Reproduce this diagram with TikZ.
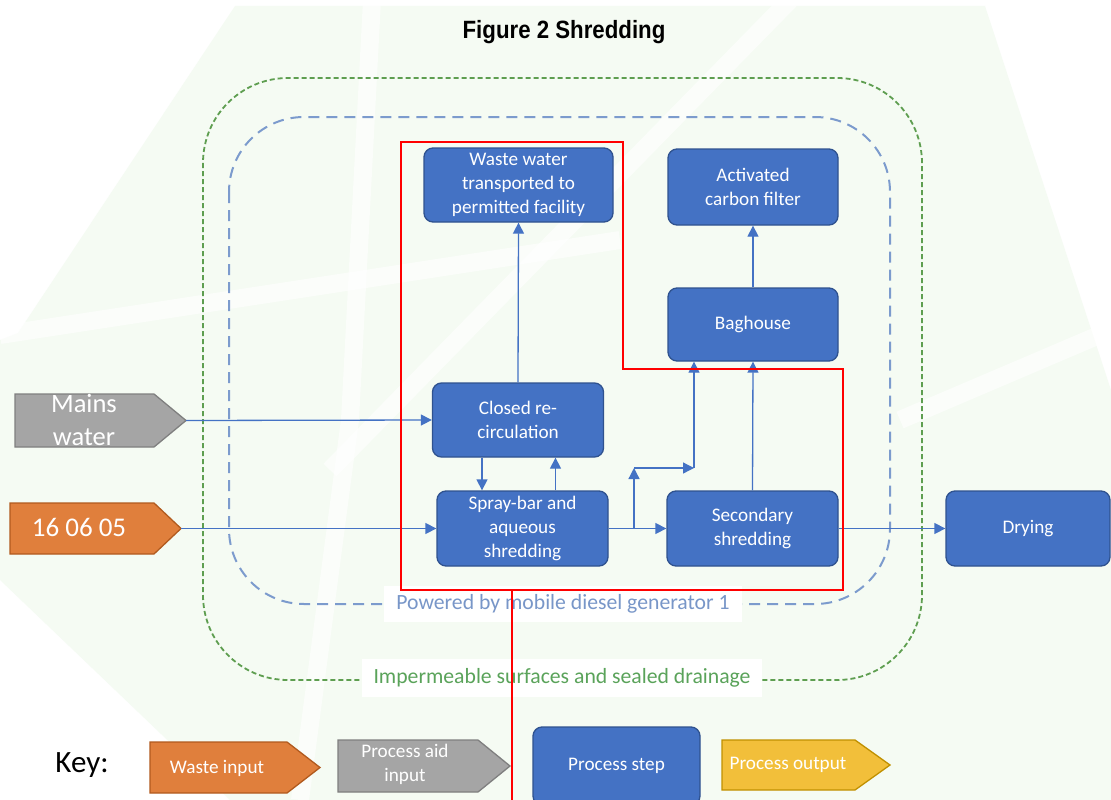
\documentclass[tikz,border=0pt]{standalone}
\usepackage{fontspec}
\usepackage{graphicx}
\setmainfont{Carlito}
\newfontfamily\titlefont{Liberation Sans}
\usetikzlibrary{arrows.meta}
\definecolor{pblue}{HTML}{4472C4}
\definecolor{pborder}{HTML}{2F528F}
\definecolor{cgray}{HTML}{A5A5A5}
\definecolor{cgrayd}{HTML}{7F7F7F}
\definecolor{corange}{HTML}{E07F3C}
\definecolor{coranged}{HTML}{B15A1E}
\definecolor{cyellow}{HTML}{F2BF3A}
\definecolor{cyellowd}{HTML}{C09000}
\definecolor{greenline}{HTML}{5E9E50}
\definecolor{bluedash}{HTML}{7C9BCD}
\definecolor{lblgreen}{HTML}{5AA35A}
\definecolor{lblblue}{HTML}{7896C8}
\definecolor{bggreen}{HTML}{F5FBF3}
\definecolor{redline}{HTML}{FF0000}
\newcommand{\pent}[8]{%
  \node[minimum width={(#4)-(#2)}, minimum height={(#5)-(#3)}, inner sep=0pt, outer sep=0pt] (#1) at ({((#2)+(#4))/2},{((#3)+(#5))/2}) {};
  \draw[fill=#7, draw=#8, line width=1.3pt] (#1.north west) -- ([xshift=-#6pt]#1.north east) -- (#1.east) -- ([xshift=-#6pt]#1.south east) -- (#1.south west) -- cycle;
}
\begin{document}
\begin{tikzpicture}[x=1pt,y=-1pt,
  proc/.style={rectangle, rounded corners=9pt, fill=pblue, draw=pborder, line width=1.3pt, text=white, align=center, inner sep=0pt, font=\fontsize{19.2}{24}\selectfont},
  arr/.style={draw=pblue, line width=1.3pt, -{Triangle[length=11pt,width=11pt]}},
  lbl/.style={text=white, align=center, inner sep=0pt},
  stripe/.style={white, line width=18pt, opacity=0.6}
]
\useasboundingbox (0,0) rectangle (1111,800);
\fill[white] (0,0) rectangle (1111,800);
% faint background watermark
\fill[bggreen] (235,6) -- (985,6) -- (1111,390) -- (1111,800) -- (230,800) -- (0,580) -- (0,340) -- (18,333) -- cycle;
\draw[stripe] (372,0) -- (350,420) -- (300,800);
\draw[stripe] (790,0) -- (330,470);
\draw[stripe] (0,335) -- (620,240);
\draw[stripe] (900,420) -- (1111,330);

% dashed frames
\draw[greenline, dash pattern=on 5pt off 3pt, line width=1.8pt, rounded corners=85pt] (203,78) rectangle (922,680);
\draw[bluedash, dash pattern=on 11pt off 7pt, line width=2pt, rounded corners=75pt] (229,117) rectangle (890,604);
\node[fill=white, inner xsep=12pt, inner ysep=9pt, text=lblblue, font=\fontsize{21.7}{24}\selectfont] (pw) at (563,604) {Powered by mobile diesel generator 1};
\node[fill=white, inner xsep=12pt, inner ysep=10pt, text=lblgreen, font=\fontsize{21.7}{24}\selectfont] (imp) at (562,678) {Impermeable surfaces and sealed drainage};

% title
\node[font=\titlefont\bfseries\fontsize{25}{28}\selectfont] (title) at (564,32) {\scalebox{0.89}[1]{Figure 2 Shredding}};

% process steps
\node[proc, minimum width=189pt, minimum height=74pt] (ww) at (518.5,185) {Waste water\\transported to\\permitted facility};
\node[proc, minimum width=170pt, minimum height=76pt] (acf) at (753,187) {Activated\\carbon filter};
\node[proc, minimum width=170pt, minimum height=73pt] (bag) at (753,324.5) {Baghouse};
\node[proc, minimum width=171pt, minimum height=74pt] (crc) at (518,420) {Closed re-\\circulation};
\node[proc, minimum width=171pt, minimum height=75pt] (spr) at (522.5,528.5) {Spray-bar and\\aqueous\\shredding};
\node[proc, minimum width=171pt, minimum height=75pt] (sec) at (752.5,528.5) {Secondary\\shredding};
\node[proc, minimum width=164pt, minimum height=75pt] (dry) at (1028,528.5) {Drying};

% inputs
\pent{mains}{15}{394}{186}{447}{32}{cgray}{cgrayd}
\node[lbl, font=\fontsize{26.5}{33}\selectfont] (mainsT) at (84,420) {Mains\\water};
\pent{waste}{10}{503}{181}{554}{27}{corange}{coranged}
\node[lbl, font=\fontsize{27}{30}\selectfont] (wasteT) at (79,527) {16 06 05};

% connectors
\draw[arr] (mains.east) -- (crc.west);
\draw[arr] (waste.east) -- (spr.west);
\draw[arr] (crc.north) -- (ww.south);
\draw[arr] ([xshift=-36pt]crc.south) -- ([xshift=-36pt]crc.south |- spr.north);
\draw[arr] ([xshift=33pt]spr.north) -- ([xshift=33pt]spr.north |- crc.south);
\draw[arr] (spr.east) -- (sec.west);
\coordinate (b1) at (634,528.5);
\coordinate (b2) at (634,468);
\coordinate (b3) at (694,468);
\draw[arr] (b1) -- (b2);
\draw[arr] (b2) -- (b3);
\draw[arr] (b3) -- (b3 |- bag.south);
\draw[arr] (sec.north) -- (bag.south);
\draw[arr] (bag.north) -- (acf.south);
\draw[arr] (sec.east) -- (dry.west);

% key
\node[font=\fontsize{31}{33}\selectfont] (key) at (82,765) {Key:};
\pent{kwaste}{150}{742}{320}{793}{33}{corange}{coranged}
\node[lbl, font=\fontsize{19.2}{22}\selectfont] (kwasteT) at (217,768) {Waste input};
\pent{kaid}{338}{740}{510}{792}{32}{cgray}{cgrayd}
\node[lbl, font=\fontsize{19.2}{24}\selectfont] (kaidT) at (405,764) {Process aid\\input};
\node[proc, minimum width=167pt, minimum height=78pt, font=\fontsize{19.2}{22}\selectfont] (kstep) at (616.5,766) {Process step};
\pent{kout}{722}{740}{890}{790}{35}{cyellow}{cyellowd}
\node[lbl, font=\fontsize{19.2}{22}\selectfont] (koutT) at (788,765) {Process output};

% red annotation
\draw[redline, line width=2.2pt] (401,142) -- (623,142) -- (623,369) -- (843,369) -- (843,590) -- (401,590) -- cycle;
\draw[redline, line width=1.2pt] (512,590) -- (512,800);
\end{tikzpicture}
\end{document}
